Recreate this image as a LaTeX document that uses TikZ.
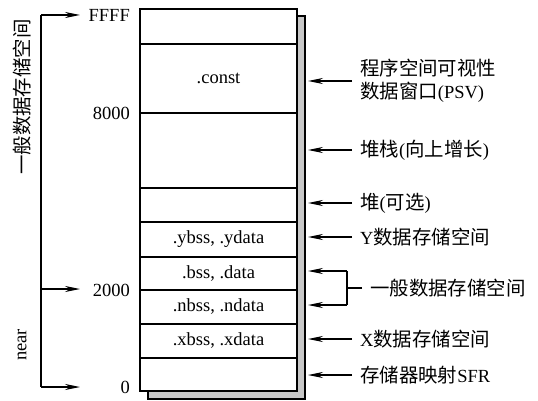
\documentclass[tikz,border=0pt]{standalone}
\usepackage{fontspec}
\setmainfont{Liberation Serif}
\newfontfamily\cjk[Scale=1.05]{Noto Sans CJK SC}
\usetikzlibrary{arrows.meta}
\tikzset{
  arr/.style={line width=1.2pt, -{Stealth[length=15pt, width=6pt]}},
  seg/.style={draw, line width=1.3pt, fill=white, minimum width=157pt, inner sep=0pt, outer sep=0pt},
  lbl/.style={inner sep=0pt, anchor=west, align=left},
  addr/.style={inner sep=0pt, anchor=east},
  vlbl/.style={inner sep=0pt, rotate=90},
}
\newcommand{\zh}[1]{{\cjk #1}}
\newcommand{\seg}[4]{\node[seg, minimum height={#3-#2}] (#1) at (218.5,{(#2+#3)/2}) {#4};}
\newcommand{\spacelbl}[3]{\node[lbl] (#1) at (360,#2) {#3};
  \draw[arr] ([xshift=-8pt]#1.west) -- (#1.west -| edge);}

\begin{document}
\begin{tikzpicture}[x=1pt, y=-1pt, font=\fontsize{18.5}{23}\selectfont]
\useasboundingbox (0,0) rectangle (538,401);

% memory map with shadow
\draw[line width=1.2pt, fill=black!22] (148,16) rectangle (305,399);
\seg{s1}{9}{44}{}
\seg{s2}{44}{113}{.const}
\seg{s3}{113}{188}{}
\seg{s4}{188}{222}{}
\seg{s5}{222}{257}{.ybss, .ydata}
\seg{s6}{257}{290}{.bss, .data}
\seg{s7}{290}{324}{.nbss, .ndata}
\seg{s8}{324}{358}{.xbss, .xdata}
\seg{s9}{358}{391}{}

% addresses
\node[addr] (aF) at (130,15) {FFFF};
\node[addr] (a8) at (130,113) {8000};
\node[addr] (a2) at (130,290) {2000};
\node[addr] (a0) at (130,387) {0};

% left bracket
\coordinate (tip) at (80,0);
\coordinate (lt) at (41,15);
\coordinate (lm) at (41,289);
\coordinate (lb) at (41,387);
\draw[line width=1.2pt] (lt) -- (lb);
\foreach \c in {lt,lm,lb} \draw[arr] (\c) -- (\c -| tip);
\node[vlbl] (gen) at (22,97) {\zh{一般数据存储空间}};
\node[vlbl] (near) at (22,345) {near};

% right labels
\coordinate (edge) at (308,0);
\spacelbl{psv}{81}{\zh{程序空间可视性}\\\zh{数据窗口}(PSV)}
\spacelbl{stk}{150}{\zh{堆栈}(\zh{向上增长})}
\spacelbl{heap}{203}{\zh{堆}(\zh{可选})}
\spacelbl{ymem}{237}{Y\zh{数据存储空间}}
\spacelbl{xmem}{339}{X\zh{数据存储空间}}
\spacelbl{sfr}{375}{\zh{存储器映射}SFR}

% general data space bracket
\coordinate (b1) at (347,271);
\coordinate (b2) at (347,305);
\node[lbl] (gdata) at (370,288) {\zh{一般数据存储空间}};
\draw[line width=1.2pt] (b1) -- (b2);
\draw[arr] (b1) -- (b1 -| edge);
\draw[arr] (b2) -- (b2 -| edge);
\draw[line width=1.2pt] ([xshift=-8pt]gdata.west) -- (gdata.west -| b1);

\end{tikzpicture}
\end{document}
